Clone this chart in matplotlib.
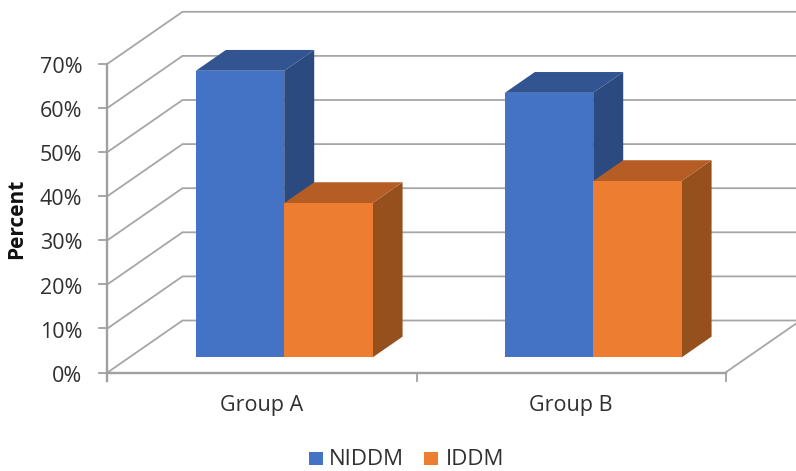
import matplotlib
matplotlib.use("Agg")
import matplotlib.pyplot as plt
from matplotlib.patches import Polygon, Rectangle

plt.rcParams['font.family'] = ['Open Sans', 'DejaVu Sans']

categories = ["Group A", "Group B"]
niddm = [65, 60]
iddm = [35, 40]
percent_ticks = [0, 10, 20, 30, 40, 50, 60, 70]

W, H = 796, 471
X0, Y0 = 107.5, 372.5      # pixel position of the chart origin
CAT_PX, PCT_PX = 309.0, 4.41  # pixels per category and per percent
DEPTH_X = 75.0 / CAT_PX    # floor depth in category units
DEPTH_Y = 52.0 / PCT_PX    # floor depth in percent units
BAR_W = 0.286
BAR_D0, BAR_D1 = 0.29, 0.69  # bar extent along the depth axis

fig = plt.figure(figsize=(W / 100, H / 100), dpi=100)
ax = fig.add_axes([0, 0, 1, 1])
ax.set_xlim(-X0 / CAT_PX, (W - X0) / CAT_PX)
ax.set_ylim(-(H - Y0) / PCT_PX, Y0 / PCT_PX)
ax.axis("off")

GRID = "#a6a6a6"
AXIS = "#a0a0a0"
TEXT = "#303030"
n = len(categories)


def proj(x, y, d):
    """Oblique projection of (category, percent, depth) onto the page."""
    return x + d * DEPTH_X, y + d * DEPTH_Y


# gridlines run over the side wall and across the back wall
for t in percent_ticks:
    pts = [proj(0, t, 0), proj(0, t, 1), proj(n, t, 1)]
    ax.plot(*zip(*pts), color=GRID, lw=1.3, zorder=1, solid_joinstyle="miter")
    ax.plot([-8 / CAT_PX, 0], [t, t], color=AXIS, lw=1.3, zorder=2)
    ax.text(-25 / CAT_PX, t - 0.85, f"{t}%", ha="right", va="center",
            fontsize=15.5, color=TEXT)

# front edges of the walls and floor
ax.plot([0, 0], [-8 / PCT_PX, percent_ticks[-1]], color=AXIS, lw=1.7, zorder=2)
ax.plot([0, n], [0, 0], color=AXIS, lw=1.7, zorder=2)
ax.plot(*zip(proj(n, 0, 0), proj(n, 0, 1)), color=GRID, lw=1.3, zorder=2)
for i in range(n + 1):
    ax.plot([i, i], [-8 / PCT_PX, 0], color=AXIS, lw=1.3, zorder=2)


def bar3d(x, value, front, top, side, z):
    x0, y0 = proj(x, 0, BAR_D0)
    x1 = x0 + BAR_W
    y1 = y0 + value
    dx = (BAR_D1 - BAR_D0) * DEPTH_X
    dy = (BAR_D1 - BAR_D0) * DEPTH_Y
    ax.add_patch(Polygon([(x1, y0), (x1 + dx, y0 + dy), (x1 + dx, y1 + dy), (x1, y1)],
                         facecolor=side, edgecolor="none", zorder=z))
    ax.add_patch(Polygon([(x0, y1), (x1, y1), (x1 + dx, y1 + dy), (x0 + dx, y1 + dy)],
                         facecolor=top, edgecolor="none", zorder=z))
    ax.add_patch(Rectangle((x0, y0), BAR_W, value, facecolor=front,
                           edgecolor="none", zorder=z + 0.1))


for i in range(n):
    left = i + 0.2155
    bar3d(left, niddm[i], "#4472c4", "#325591", "#2b4a80", 3 + i)
    bar3d(left + BAR_W, iddm[i], "#ed7d31", "#b55d24", "#95501d", 3.5 + i)
    ax.text(i + 0.5, -33.5 / PCT_PX, categories[i], ha="center", va="center",
            fontsize=15.5, color=TEXT)

ax.text(-90.5 / CAT_PX, 153.5 / PCT_PX, "Percent", rotation=90, ha="center", va="center",
        fontsize=15, fontweight="bold", color="#111111")

# legend row beneath the plot
ly = -(458.5 - Y0) / PCT_PX
for px, text_px, label, color in [(308.5, 329, "NIDDM", "#4472c4"),
                                  (424, 446, "IDDM", "#ed7d31")]:
    x = (px - X0) / CAT_PX
    ax.add_patch(Rectangle((x, ly - 6.5 / PCT_PX), 14 / CAT_PX, 13 / PCT_PX,
                           facecolor=color, edgecolor="none", clip_on=False))
    ax.text((text_px - X0) / CAT_PX, ly - 0.2, label, ha="left", va="center",
            fontsize=16, color=TEXT)

fig.savefig("out.png", dpi=100)
